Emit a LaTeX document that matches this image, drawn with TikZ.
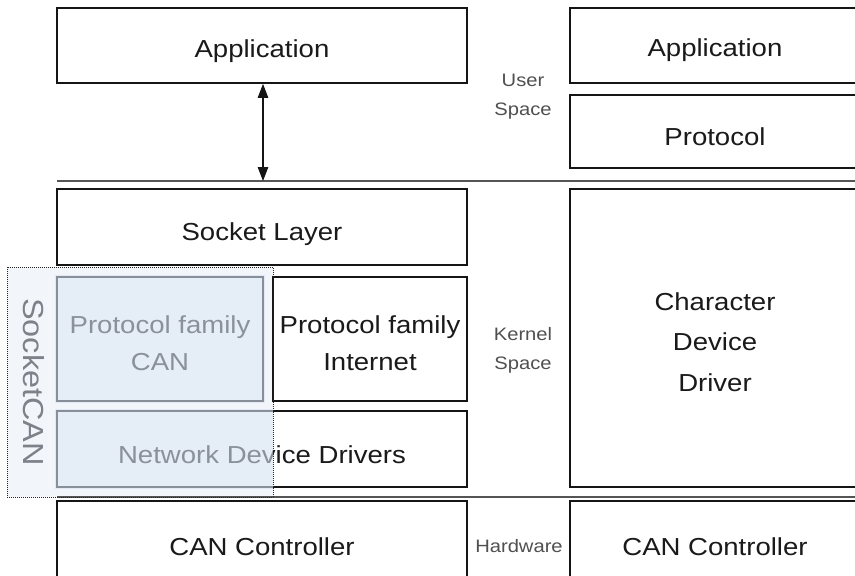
\documentclass[tikz,border=0pt]{standalone}
\usepackage{fontspec}
\setmainfont{Liberation Sans}[FakeStretch=1.12]
\usetikzlibrary{arrows.meta}
\definecolor{txt}{HTML}{1A1A1A}
\definecolor{boxc}{HTML}{151515}
\definecolor{linec}{HTML}{555555}
\definecolor{lblc}{HTML}{505050}
\definecolor{scbg}{HTML}{F2F5FA}
\definecolor{ovl}{RGB}{213,225,242}
\definecolor{sctxt}{HTML}{7D828A}
% invisible strut that lowers the text of a node
\newcommand{\lowerby}[1]{\rule{0pt}{\dimexpr 17.6pt + #1 + #1\relax}}
\tikzset{
  box/.style={draw=boxc, line width=1.8pt, fill=white, inner sep=0pt, align=center,
    text=txt, font=\fontsize{24.6}{37}\selectfont},
  lbl/.style={inner sep=0pt, align=center, text=lblc, font=\fontsize{18}{29}\selectfont},
  sepline/.style={draw=linec, line width=1.2pt},
  overlay/.style={fill=ovl, fill opacity=0.6, draw=none},
}
\begin{document}
\begin{tikzpicture}[x=1pt,y=-1pt]
\useasboundingbox (0,0) rectangle (855,576);
\clip (0,0) rectangle (855,576);
\fill[white] (0,0) rectangle (855,576);

% SocketCAN background
\fill[scbg] (7,267) rectangle (273,497);

% left column
\node[box, minimum width=410pt, minimum height=75pt] (appL) at (262,45.5) {\lowerby{5.5pt}Application};
\node[box, minimum width=410pt, minimum height=76pt] (sock) at (262,227) {\lowerby{7.5pt}Socket Layer};
\node[box, minimum width=206pt, minimum height=124pt] (pfcan) at (160,339) {\lowerby{4.5pt}Protocol family\\CAN};
\node[box, minimum width=194pt, minimum height=124pt] (pfinet) at (370,339) {\lowerby{4pt}Protocol family\\Internet};
\node[box, minimum width=410pt, minimum height=76pt] (ndd) at (262,449) {\lowerby{5.5pt}Network Device Drivers};
\node[box, minimum width=410pt, minimum height=90pt] (canL) at (262,546) {\lowerby{1pt}CAN Controller};

% right column
\node[box, minimum width=290pt, minimum height=75pt] (appR) at (715,45.5) {\lowerby{5pt}Application};
\node[box, minimum width=290pt, minimum height=73pt] (prot) at (715,131.5) {\lowerby{5pt}Protocol};
\node[box, minimum width=290pt, minimum height=298pt, font=\fontsize{24.6}{40.5}\selectfont] (cdd) at (715,338) {\lowerby{4pt}Character\\Device\\Driver};
\node[box, minimum width=290pt, minimum height=90pt] (canR) at (715,546) {\lowerby{1pt}CAN Controller};

% separator lines
\coordinate (l1a) at (57,181);
\coordinate (l1b) at (860,181);
\coordinate (l2a) at (57,497);
\coordinate (l2b) at (860,497);
\draw[sepline] (l1a) -- (l1b);
\draw[sepline] (l2a) -- (l2b);

% arrow
\coordinate (arrEnd) at (263,181);
\draw[line width=1.1pt, boxc, {Triangle[length=14pt,width=10.5pt]}-{Triangle[length=14pt,width=10.5pt]}]
  (appL.south -| arrEnd) -- (arrEnd);

% SocketCAN overlays
\fill[overlay] (55,275) rectangle (265,403);
\fill[overlay] (55,409) rectangle (273,489);
\draw[densely dotted, line width=1pt, black!85] (7,267) rectangle (273,497);
\node[inner sep=0pt, rotate=-90, text=sctxt, font=\fontsize{29}{29}\selectfont] (sc) at (34,382) {SocketCAN};

% region labels
\node[lbl] (user) at (523,97) {User\\Space};
\node[lbl] (kern) at (523,350) {Kernel\\Space};
\node[lbl] (hw) at (519,546) {Hardware};
\end{tikzpicture}
\end{document}
